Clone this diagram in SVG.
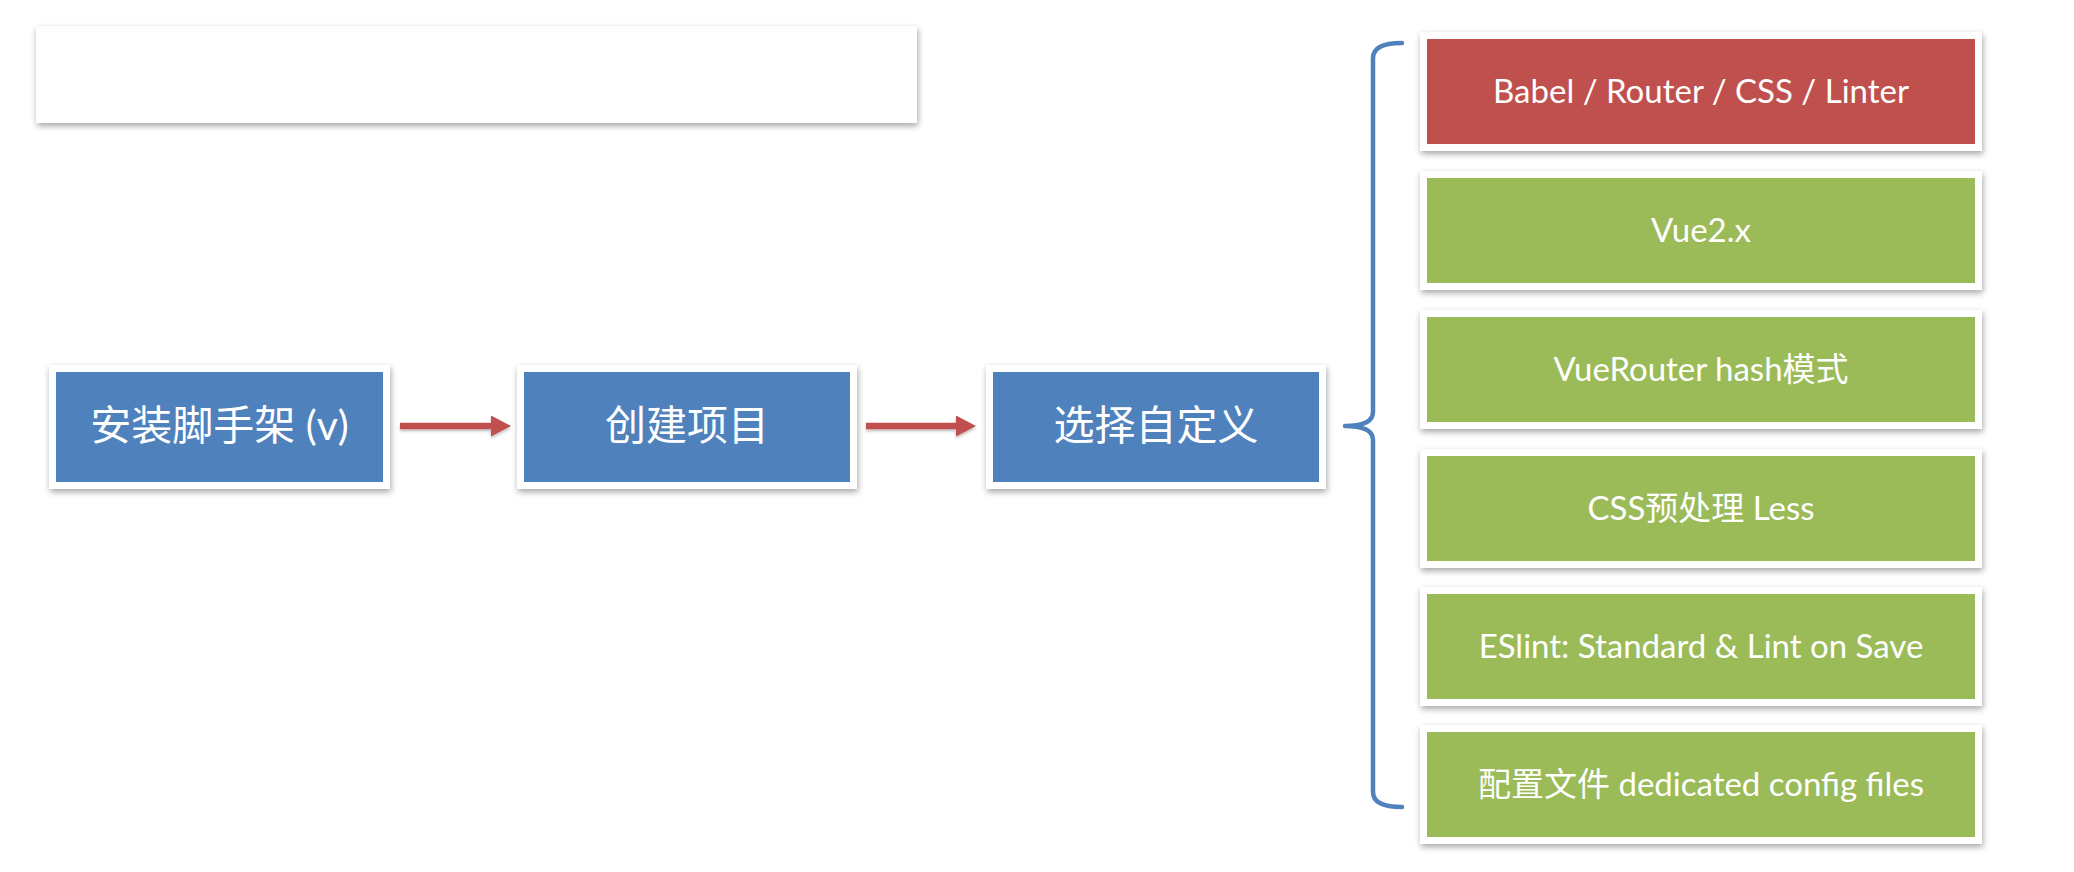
<svg xmlns="http://www.w3.org/2000/svg" width="2074" height="872" viewBox="0 0 2074 872">
<style>
.frame{fill:#ffffff;filter:url(#sh);}
.blue{fill:#4F81BD;}
.red{fill:#C0504D;}
.green{fill:#9BBB59;}
.t{fill:#ffffff;font-family:Lato,"Noto Sans CJK SC",sans-serif;text-anchor:middle;}
.big{font-size:41px;}
.small{font-size:33px;}
.arrow{stroke:#C0504D;stroke-width:6.5;fill:none;marker-end:url(#ah);}
.brace{stroke:#4F81BD;stroke-width:4.5;fill:none;stroke-linecap:round;stroke-linejoin:round;}
</style>
<defs>
<filter id="sh" x="-10%" y="-20%" width="120%" height="150%">
<feDropShadow dx="1" dy="3" stdDeviation="3" flood-color="#000" flood-opacity="0.35"/>
</filter>
<filter id="sh2" filterUnits="userSpaceOnUse" x="0" y="0" width="2074" height="872">
<feDropShadow dx="0" dy="2" stdDeviation="1.5" flood-color="#000" flood-opacity="0.25"/>
</filter>
<marker id="ah" markerUnits="userSpaceOnUse" markerWidth="20" markerHeight="21" refX="1" refY="10.5" orient="auto">
<path d="M0,0 L20,10.5 L0,21 z" fill="#C0504D"/>
</marker>
</defs>
<rect width="2074" height="872" fill="#ffffff"/>
<g id="title-box">
<rect class="frame" x="36" y="26" width="881" height="97"/>
</g>
<g id="connectors">
<g filter="url(#sh2)">
<line class="arrow" x1="400" y1="426" x2="492" y2="426"/>
<line class="arrow" x1="866" y1="426" x2="957" y2="426"/>
</g>
<path class="brace" d="M1402,43 Q1373,43 1373,58 L1373,412 Q1373,426 1345,426 Q1373,426 1373,440 L1373,792 Q1373,807 1402,807"/>
</g>
<g id="node-install">
<rect class="frame" x="49" y="365" width="341" height="124"/>
<rect class="blue" x="56" y="372" width="327" height="110"/>
<text class="t big" x="219.5" y="440">安装脚手架 (v)</text>
</g>
<g id="node-create">
<rect class="frame" x="517" y="365" width="340" height="124"/>
<rect class="blue" x="524" y="372" width="326" height="110"/>
<text class="t big" x="687" y="440">创建项目</text>
</g>
<g id="node-custom">
<rect class="frame" x="986" y="365" width="340" height="124"/>
<rect class="blue" x="993" y="372" width="326" height="110"/>
<text class="t big" x="1156" y="440">选择自定义</text>
</g>
<g id="opt-babel">
<rect class="frame" x="1420" y="32" width="562" height="119"/>
<rect class="red" x="1427" y="39" width="548" height="105"/>
<text class="t small" x="1701" y="103">Babel / Router / CSS / Linter</text>
</g>
<g id="opt-vue">
<rect class="frame" x="1420" y="171" width="562" height="119"/>
<rect class="green" x="1427" y="178" width="548" height="105"/>
<text class="t small" x="1701" y="242">Vue2.x</text>
</g>
<g id="opt-router">
<rect class="frame" x="1420" y="310" width="562" height="119"/>
<rect class="green" x="1427" y="317" width="548" height="105"/>
<text class="t small" x="1701" y="381">VueRouter hash模式</text>
</g>
<g id="opt-css">
<rect class="frame" x="1420" y="449" width="562" height="119"/>
<rect class="green" x="1427" y="456" width="548" height="105"/>
<text class="t small" x="1701" y="520">CSS预处理 Less</text>
</g>
<g id="opt-eslint">
<rect class="frame" x="1420" y="587" width="562" height="119"/>
<rect class="green" x="1427" y="594" width="548" height="105"/>
<text class="t small" x="1701" y="658">ESlint: Standard &amp; Lint on Save</text>
</g>
<g id="opt-config">
<rect class="frame" x="1420" y="725" width="562" height="119"/>
<rect class="green" x="1427" y="732" width="548" height="105"/>
<text class="t small" x="1701" y="796">配置文件 dedicated config files</text>
</g>
</svg>
